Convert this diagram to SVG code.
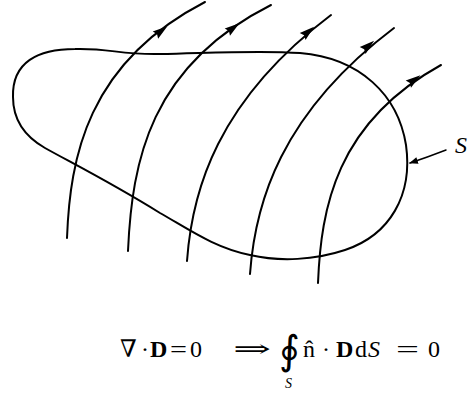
<svg xmlns="http://www.w3.org/2000/svg" width="471" height="394" viewBox="0 0 471 394">
<style>
.ln{fill:none;stroke:#000;stroke-width:2;stroke-linecap:round;stroke-linejoin:round}
.ah{fill:#000;stroke:none}
.m{font-family:"Liberation Serif","DejaVu Serif",serif;font-size:24px;fill:#000}
.b{font-weight:bold}
.i{font-style:italic}
</style>
<defs>
<polygon id="ah" class="ah" points="8,0 -7,-4.5 -5,0 -7,4.5"/>
<marker id="sm" viewBox="0 0 10 8" refX="9" refY="4" markerWidth="9" markerHeight="7" orient="auto" markerUnits="userSpaceOnUse">
<path d="M0,0 L10,4 L0,8 Z" fill="#000"/>
</marker>
</defs>
<rect width="471" height="394" fill="#fff"/>
<g id="surface-S">
<path class="ln" d="M13,97 C12,62 38,49 75,49 C110,48 120,55 160,54 C210,53 260,50 300,53 C360,58 398,95 406,145 C413,195 390,235 345,250 C315,260 280,262 250,255 C215,248 190,230 160,213 C110,182 70,162 45,148 C24,136 13,118 13,97 Z"/>
</g>
<g id="field-lines">
<path class="ln" d="M67,238 C70,158 87,63 205,2"/>
<path class="ln" d="M128,251 C132,161 150,66 271,5"/>
<path class="ln" d="M187,261 C192,191 217,101 331,15"/>
<path class="ln" d="M250,274 C255,204 280,114 394,28"/>
<path class="ln" d="M318,283 C321,208 336,123 441,65"/>
<use href="#ah" transform="translate(161,31) rotate(-37)"/>
<use href="#ah" transform="translate(233,28) rotate(-36)"/>
<use href="#ah" transform="translate(308,32) rotate(-40)"/>
<use href="#ah" transform="translate(368,46) rotate(-40)"/>
<use href="#ah" transform="translate(414,80) rotate(-36)"/>
</g>
<g id="label-S">
<path class="ln" style="stroke-width:1.5" d="M446,150 Q428,157 410,163" marker-end="url(#sm)"/>
<text class="m i" x="455" y="153">S</text>
</g>
<g id="equation">
<text class="m" y="357">
<tspan x="120">∇</tspan><tspan x="141">·</tspan><tspan class="b" x="150">D</tspan><tspan x="170" textLength="17" lengthAdjust="spacingAndGlyphs">=</tspan><tspan x="190">0</tspan><tspan x="233" textLength="38" lengthAdjust="spacingAndGlyphs" style="font-family:'DejaVu Serif',serif">⇒</tspan>
</text>
<text class="m" x="279" y="364" style="font-size:40px;font-family:'DejaVu Serif',serif">∮</text>
<text class="m i" x="285" y="388" style="font-size:14px">S</text>
<text class="m" y="357">
<tspan x="303">n̂</tspan><tspan x="322">·</tspan><tspan class="b" x="336">D</tspan><tspan x="355">d</tspan><tspan class="i" x="368">S</tspan><tspan x="396" textLength="23" lengthAdjust="spacingAndGlyphs">=</tspan><tspan x="428">0</tspan>
</text>
</g>
</svg>
